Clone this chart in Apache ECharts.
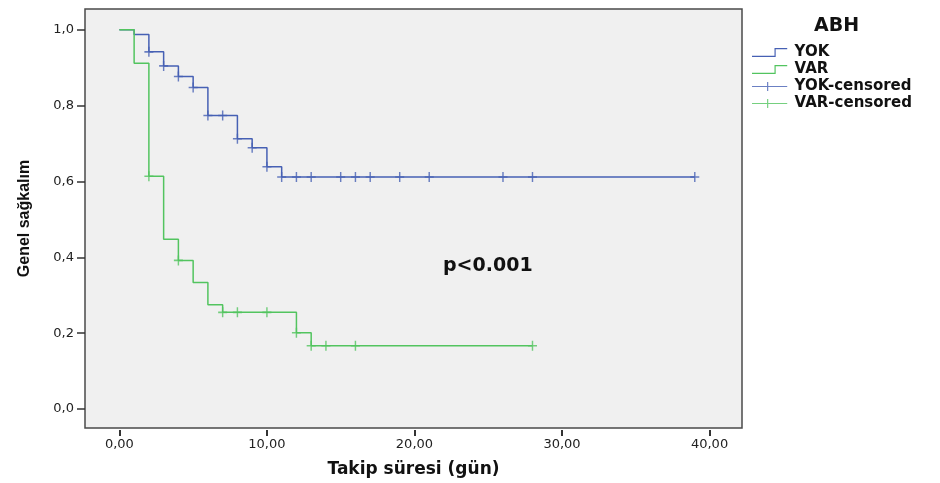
<!DOCTYPE html>
<html>
<head>
<meta charset="utf-8">
<script src="https://cdn.jsdelivr.net/npm/echarts@6/dist/echarts.min.js"></script>
<style>
  html, body { margin: 0; padding: 0; background: #fff; }
  #chart { width: 940px; height: 483px; }
</style>
</head>
<body>
<div id="chart"></div>
<script>
// Kaplan-Meier data
const yokTimes = [0, 1, 2, 3, 4, 5, 6, 8, 9, 10, 11, 39]
const yokSurv = [1.0, 0.988, 0.942, 0.905, 0.877, 0.848, 0.774, 0.713, 0.689, 0.639, 0.612, 0.612]
const yokCensored = [2, 3, 4, 5, 6, 7, 8, 9, 10, 11, 12, 13, 15, 16, 17, 19, 21, 26, 28, 39]

const varTimes = [0, 1, 2, 3, 4, 5, 6, 7, 12, 13, 28]
const varSurv = [1.0, 0.912, 0.614, 0.448, 0.392, 0.334, 0.275, 0.255, 0.201, 0.167, 0.167]
const varCensored = [2, 4, 7, 8, 10, 12, 13, 14, 16, 28]

const xTicks = [0, 10, 20, 30, 40]
const yTicks = [0, 0.2, 0.4, 0.6, 0.8, 1.0]

const BLUE = '#4660b4'
const GREEN = '#52c45f'
const FONT = '"DejaVu Sans", Verdana, sans-serif'
const ARIAL = '"Liberation Sans", Arial, sans-serif'

// survival level at time t (step function)
function survAt(times, surv, t) {
  let v = surv[0]
  for (let i = 0; i < times.length; i++) {
    if (times[i] <= t) v = surv[i]
  }
  return v
}

const stepIcon = 'path://M0,8 L23,8 L23,0 L36,0 L36,1.2 L24.2,1.2 L24.2,9.2 L0,9.2 Z'
const crossIcon = 'path://M0,4 L36,4 L36,5.2 L0,5.2 Z M15.4,0 L16.6,0 L16.6,9.2 L15.4,9.2 Z'
const crossMark = 'path://M0,4.2 L10,4.2 L10,5.8 L0,5.8 Z M4.2,0 L5.8,0 L5.8,10 L4.2,10 Z'

const chart = echarts.init(document.getElementById('chart'))
chart.setOption({
  animation: false,
  backgroundColor: '#fff',
  textStyle: { fontFamily: FONT },
  grid: {
    left: 85,
    right: 198,
    top: 9,
    bottom: 54,
    show: true,
    backgroundColor: '#f0f0f0',
    borderColor: '#4a4a4a',
    borderWidth: 1.5
  },
  graphic: [
    {
      type: 'text',
      left: 814,
      top: 17,
      style: { text: 'ABH', font: 'bold 19px ' + FONT, fill: '#111' }
    },
    {
      type: 'text',
      left: 443,
      top: 257,
      style: { text: 'p<0.001', font: 'bold 19px ' + FONT, fill: '#111' }
    }
  ],
  legend: {
    orient: 'vertical',
    left: 747,
    top: 40,
    itemWidth: 36,
    itemHeight: 9,
    itemGap: 2,
    textStyle: { fontFamily: FONT, fontWeight: 'bold', fontSize: 15, color: '#111', padding: [0, 0, 0, 2] },
    data: [
      { name: 'YOK', icon: stepIcon },
      { name: 'VAR', icon: stepIcon },
      { name: 'YOK-censored', icon: crossIcon },
      { name: 'VAR-censored', icon: crossIcon }
    ]
  },
  xAxis: {
    type: 'value',
    min: -2.33,
    max: 42.2,
    offset: 2,
    name: 'Takip süresi (gün)',
    nameLocation: 'middle',
    nameGap: 31,
    nameTextStyle: { fontFamily: FONT, fontWeight: 'bold', fontSize: 17, color: '#111' },
    axisLine: { show: false, onZero: false },
    axisTick: { show: true, length: 6, customValues: xTicks, lineStyle: { color: '#333', width: 2 } },
    axisLabel: {
      customValues: xTicks,
      margin: 8,
      fontSize: 13,
      color: '#222',
      formatter: v => v.toFixed(2).replace('.', ',')
    },
    splitLine: { show: false }
  },
  yAxis: {
    type: 'value',
    min: -0.05,
    max: 1.055,
    name: 'Genel sağkalım',
    nameLocation: 'middle',
    nameGap: 52,
    nameTextStyle: { fontFamily: ARIAL, fontWeight: 'bold', fontSize: 16, color: '#111' },
    axisLine: { show: false, onZero: false },
    axisTick: { show: true, length: 8, customValues: yTicks, lineStyle: { color: '#333', width: 1.5 } },
    axisLabel: {
      customValues: yTicks,
      margin: 11,
      fontSize: 13,
      color: '#222',
      formatter: v => v.toFixed(1).replace('.', ',')
    },
    splitLine: { show: false }
  },
  series: [
    {
      name: 'YOK',
      type: 'line',
      step: 'end',
      showSymbol: false,
      color: BLUE,
      lineStyle: { color: BLUE, width: 1.5 },
      data: yokTimes.map((t, i) => [t, yokSurv[i]]),
      z: 2
    },
    {
      name: 'VAR',
      type: 'line',
      step: 'end',
      showSymbol: false,
      color: GREEN,
      lineStyle: { color: GREEN, width: 1.5 },
      data: varTimes.map((t, i) => [t, varSurv[i]]),
      z: 3
    },
    {
      name: 'YOK-censored',
      type: 'scatter',
      symbol: crossMark,
      symbolSize: [9, 10],
      color: BLUE,
      itemStyle: { color: BLUE },
      data: yokCensored.map(t => [t, survAt(yokTimes, yokSurv, t)]),
      z: 4
    },
    {
      name: 'VAR-censored',
      type: 'scatter',
      symbol: crossMark,
      symbolSize: [9, 10],
      color: GREEN,
      itemStyle: { color: GREEN },
      data: varCensored.map(t => [t, survAt(varTimes, varSurv, t)]),
      z: 4
    }
  ]
})
</script>
</body>
</html>
